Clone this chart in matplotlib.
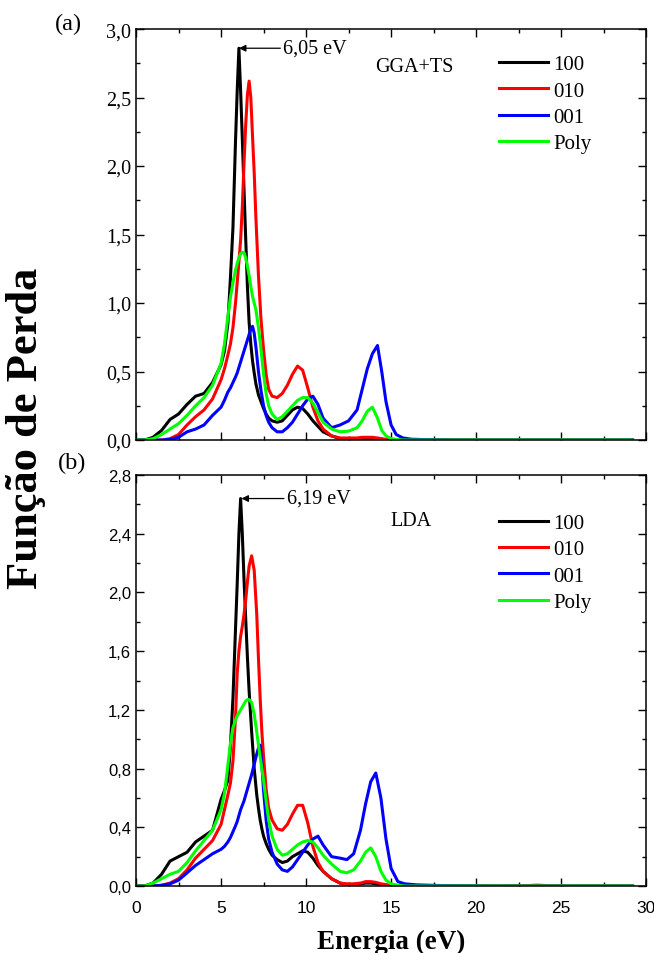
import matplotlib
matplotlib.use("Agg")
import matplotlib.pyplot as plt
from matplotlib.ticker import MultipleLocator, FuncFormatter

# ---- dados ----
# (a) GGA+TS
E_a = [0, 0.5, 1.0, 1.5, 2.0, 2.5, 3.0, 3.5, 4.0, 4.5,
       5.0, 5.2, 5.4, 5.55, 5.7, 5.85, 5.95, 6.05, 6.15, 6.25, 6.35, 6.45,
       6.55, 6.65, 6.75, 6.85, 6.95, 7.05, 7.2, 7.35, 7.5, 7.65, 7.8, 8.0,
       8.3, 8.6, 8.9, 9.2, 9.5, 9.8, 10.1, 10.4, 10.7, 11.0,
       11.5, 12.0, 12.5, 13.0, 13.3, 13.6, 13.9, 14.2, 14.45, 14.7,
       15.0, 15.3, 15.7, 16.2, 17.0, 19.0, 22.0, 25.0, 29.2]
a_100 = [0, 0, 0.02, 0.07, 0.15, 0.19, 0.26, 0.32, 0.34, 0.42,
         0.55, 0.65, 0.85, 1.18, 1.55, 2.18, 2.55, 2.86, 2.55, 2.20, 1.83, 1.47,
         1.12, 0.86, 0.70, 0.58, 0.49, 0.41, 0.33, 0.28, 0.23, 0.19, 0.16, 0.14,
         0.13, 0.14, 0.18, 0.22, 0.24, 0.23, 0.19, 0.14, 0.10, 0.06,
         0.03, 0.01, 0.005, 0.005, 0.01, 0.01, 0.01, 0.01, 0.005, 0,
         0, 0, 0, 0, 0, 0, 0, 0, 0]
a_010 = [0, 0, 0, 0, 0.01, 0.04, 0.11, 0.17, 0.22, 0.30,
         0.44, 0.52, 0.62, 0.70, 0.82, 1.00, 1.15, 1.30, 1.46, 1.70, 2.02, 2.30,
         2.52, 2.62, 2.50, 2.22, 1.95, 1.62, 1.20, 0.88, 0.66, 0.48, 0.37, 0.32,
         0.31, 0.34, 0.40, 0.48, 0.54, 0.51, 0.38, 0.24, 0.14, 0.08,
         0.03, 0.015, 0.015, 0.015, 0.02, 0.02, 0.02, 0.015, 0.01, 0.005,
         0, 0, 0, 0, 0, 0, 0, 0, 0]
a_001 = [0, 0, 0, 0, 0.005, 0.02, 0.06, 0.08, 0.11, 0.18,
         0.24, 0.29, 0.35, 0.38, 0.42, 0.46, 0.49, 0.53, 0.57, 0.61, 0.65, 0.69,
         0.73, 0.77, 0.81, 0.83, 0.78, 0.68, 0.50, 0.36, 0.25, 0.18, 0.13, 0.09,
         0.06, 0.06, 0.09, 0.13, 0.19, 0.25, 0.30, 0.32, 0.26, 0.16,
         0.09, 0.11, 0.14, 0.22, 0.37, 0.52, 0.63, 0.69, 0.50, 0.28,
         0.11, 0.04, 0.015, 0.006, 0.003, 0, 0, 0, 0]
a_poly = [0, 0, 0.01, 0.04, 0.08, 0.12, 0.18, 0.25, 0.31, 0.40,
          0.56, 0.70, 0.90, 1.04, 1.15, 1.24, 1.29, 1.33, 1.36, 1.37, 1.37, 1.33,
          1.27, 1.20, 1.12, 1.05, 1.00, 0.95, 0.82, 0.66, 0.48, 0.34, 0.25, 0.19,
          0.15, 0.17, 0.21, 0.25, 0.29, 0.31, 0.31, 0.27, 0.20, 0.13,
          0.08, 0.06, 0.065, 0.09, 0.14, 0.21, 0.24, 0.16, 0.07, 0.03,
          0.01, 0.005, 0, 0, 0, 0, 0, 0, 0]

# (b) LDA
E_b = [0, 0.5, 1.0, 1.5, 2.0, 2.5, 3.0, 3.5, 4.0, 4.5,
       5.0, 5.2, 5.4, 5.55, 5.7, 5.85, 5.95, 6.05, 6.15, 6.25, 6.35, 6.45,
       6.55, 6.65, 6.8, 6.95, 7.1, 7.2, 7.3, 7.4, 7.5, 7.65, 7.8, 8.0,
       8.3, 8.6, 8.9, 9.2, 9.5, 9.8, 10.1, 10.4, 10.7, 11.0,
       11.5, 12.0, 12.4, 12.8, 13.2, 13.5, 13.8, 14.1, 14.4, 14.7,
       15.0, 15.4, 15.8, 16.5, 18.0, 21.0, 23.0, 23.6, 24.2, 26.0, 29.2]
b_100 = [0, 0, 0.02, 0.08, 0.17, 0.20, 0.23, 0.30, 0.34, 0.38,
         0.59, 0.65, 0.72, 0.95, 1.28, 1.75, 2.06, 2.40, 2.64, 2.40, 2.09, 1.82,
         1.56, 1.33, 1.05, 0.80, 0.62, 0.53, 0.45, 0.39, 0.34, 0.29, 0.25, 0.21,
         0.18, 0.16, 0.17, 0.20, 0.22, 0.24, 0.23, 0.19, 0.14, 0.10,
         0.05, 0.02, 0.01, 0.01, 0.015, 0.02, 0.02, 0.015, 0.01, 0.005,
         0, 0, 0, 0, 0, 0, 0, 0, 0, 0, 0]
b_010 = [0, 0, 0, 0.005, 0.02, 0.05, 0.11, 0.19, 0.25, 0.31,
         0.42, 0.52, 0.62, 0.70, 0.85, 1.15, 1.45, 1.60, 1.70, 1.77, 1.85, 1.95,
         2.07, 2.18, 2.25, 2.15, 1.85, 1.55, 1.28, 1.05, 0.88, 0.66, 0.53, 0.45,
         0.39, 0.38, 0.42, 0.49, 0.55, 0.55, 0.43, 0.27, 0.16, 0.10,
         0.05, 0.02, 0.015, 0.015, 0.02, 0.03, 0.03, 0.025, 0.015, 0.01,
         0.005, 0, 0, 0, 0, 0, 0.003, 0.006, 0.003, 0, 0]
b_001 = [0, 0, 0, 0.005, 0.015, 0.04, 0.09, 0.14, 0.18, 0.22,
         0.25, 0.27, 0.30, 0.33, 0.37, 0.41, 0.44, 0.48, 0.52, 0.55, 0.58, 0.62,
         0.66, 0.70, 0.76, 0.83, 0.90, 0.94, 0.96, 0.83, 0.65, 0.45, 0.32, 0.23,
         0.15, 0.11, 0.10, 0.13, 0.18, 0.23, 0.28, 0.32, 0.34, 0.28,
         0.20, 0.19, 0.18, 0.22, 0.38, 0.56, 0.71, 0.77, 0.60, 0.32,
         0.12, 0.03, 0.015, 0.008, 0.003, 0, 0, 0, 0, 0, 0]
b_poly = [0, 0, 0.02, 0.05, 0.08, 0.10, 0.16, 0.24, 0.31, 0.38,
          0.52, 0.63, 0.82, 0.97, 1.08, 1.13, 1.16, 1.18, 1.20, 1.22, 1.24, 1.26,
          1.27, 1.27, 1.25, 1.17, 1.05, 0.96, 0.88, 0.80, 0.72, 0.58, 0.45, 0.34,
          0.25, 0.21, 0.22, 0.25, 0.28, 0.30, 0.31, 0.30, 0.26, 0.21,
          0.15, 0.10, 0.09, 0.11, 0.17, 0.23, 0.26, 0.20, 0.10, 0.04,
          0.015, 0.005, 0, 0, 0, 0, 0, 0, 0, 0, 0]

labels = ["100", "010", "001", "Poly"]
colors = ["black", "#ff0000", "#0000ff", "#00ff00"]

serif = "Liberation Serif"
sans = "Liberation Sans"

fig = plt.figure(figsize=(6.54, 9.54), dpi=100)
ax1 = fig.add_axes([0.208, 0.5377, 0.780, 0.4308])
ax2 = fig.add_axes([0.208, 0.0702, 0.780, 0.4308])

comma = FuncFormatter(lambda v, p: f"{v:.1f}".replace(".", ","))


def style_axes(ax, ymax, ymaj, ymin, yfont, show_x):
    ax.set_xlim(0, 30)
    ax.set_ylim(0, ymax)
    ax.xaxis.set_major_locator(MultipleLocator(5))
    ax.xaxis.set_minor_locator(MultipleLocator(2.5))
    ax.yaxis.set_major_locator(MultipleLocator(ymaj))
    ax.yaxis.set_minor_locator(MultipleLocator(ymin))
    ax.yaxis.set_major_formatter(comma)
    ax.tick_params(which="both", direction="in", top=True, right=True, width=1.0)
    ax.tick_params(which="major", length=6)
    ax.tick_params(which="minor", length=3)
    ax.tick_params(axis="x", pad=10)
    for lab in ax.get_yticklabels():
        lab.set_fontfamily(yfont)
        lab.set_fontsize(14.5 if yfont == serif else 12)
    if show_x:
        for lab in ax.get_xticklabels():
            lab.set_fontfamily(sans)
            lab.set_fontsize(12.5)
    else:
        ax.set_xticklabels([])
    for sp in ax.spines.values():
        sp.set_linewidth(1.1)


legend_y = {0: 0.938, 1: 0.907}
for i, (ax, E, series) in enumerate([(ax1, E_a, [a_100, a_010, a_001, a_poly]),
                                     (ax2, E_b, [b_100, b_010, b_001, b_poly])]):
    for y, lab, c in zip(series, labels, colors):
        ax.plot(E, y, color=c, lw=2.2, label=lab, solid_joinstyle="round")
    ax.legend(loc="upper left", bbox_to_anchor=(0.712, legend_y[i]), frameon=False,
              prop={"family": serif, "size": 15}, handlelength=2.35,
              handletextpad=0.25, labelspacing=0.33, borderpad=0, borderaxespad=0)

style_axes(ax1, 3.0, 0.5, 0.25, serif, False)
style_axes(ax2, 2.8, 0.4, 0.2, sans, True)

# anotacoes dos picos
ax1.annotate("6,05 eV", xy=(6.05, 2.86), xytext=(8.65, 2.86), va="center",
             fontfamily=serif, fontsize=14.5,
             arrowprops=dict(arrowstyle="-|>", color="black", lw=0.9, mutation_scale=10,
                             shrinkA=0, shrinkB=0))
ax2.annotate("6,19 eV", xy=(6.2, 2.64), xytext=(8.86, 2.64), va="center",
             fontfamily=serif, fontsize=14.5,
             arrowprops=dict(arrowstyle="-|>", color="black", lw=0.9, mutation_scale=10,
                             shrinkA=0, shrinkB=0))

ax1.text(0.469, 0.908, "GGA+TS", transform=ax1.transAxes, fontfamily=serif,
         fontsize=14.5, va="center")
ax2.text(0.498, 0.890, "LDA", transform=ax2.transAxes, fontfamily=serif,
         fontsize=14.5, va="center")

fig.text(0.084, 0.974, "(a)", fontfamily=serif, fontsize=17.5, va="center")
fig.text(0.089, 0.514, "(b)", fontfamily=serif, fontsize=17.5, va="center")

ax2.set_xlabel("Energia (eV)", fontfamily=serif, fontsize=19.5, fontweight="bold", labelpad=10)
fig.text(0.040, 0.551, "Função de Perda", rotation=90, fontfamily=serif, fontsize=32,
         fontweight="bold", ha="center", va="center")

fig.savefig("out.png", dpi=100)
